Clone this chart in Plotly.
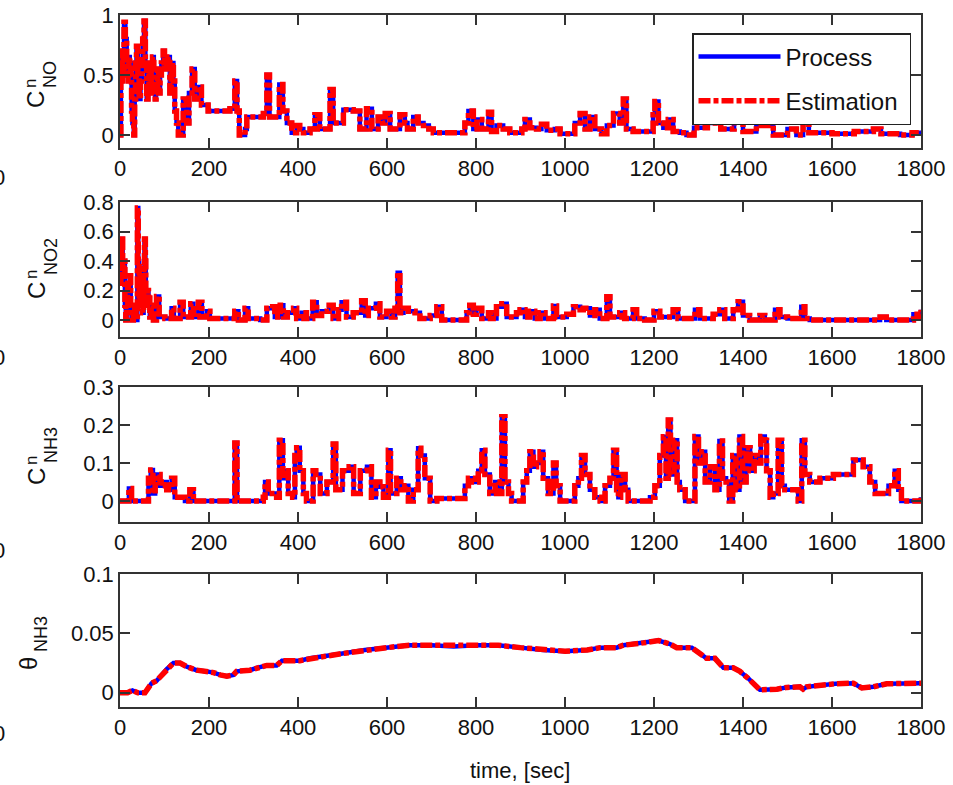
import plotly.graph_objects as go

# ---------------- data ----------------
t_no = [0, 2, 3, 5, 6, 7, 9, 12, 15, 18, 20, 22, 24, 26, 28, 31, 33, 35, 37, 40, 43, 46, 49, 51, 54, 57, 60,
        63, 65, 68, 70, 73, 76, 79, 81, 84, 87, 90, 93, 97, 100, 105, 108, 112, 115, 118, 120, 123, 127, 131,
        142, 150, 155, 162, 168, 175, 183, 198, 247, 258, 263, 268, 281, 285, 322, 330, 336, 345, 358, 366,
        375, 386, 397, 404, 412, 427, 438, 449, 472, 479, 502, 524, 539, 554, 566, 580, 590, 596, 607, 629,
        640, 646, 659, 670, 682, 694, 704, 764, 775, 783, 794, 802, 813, 828, 835, 846, 861, 876, 903, 910,
        921, 936, 947, 959, 977, 989, 1011, 1022, 1034, 1045, 1056, 1067, 1082, 1094, 1109, 1123, 1131, 1138,
        1153, 1183, 1198, 1202, 1210, 1221, 1232, 1243, 1258, 1273, 1290, 1320, 1350, 1380, 1400, 1430, 1468,
        1500, 1520, 1535, 1548, 1600, 1650, 1693, 1710, 1753, 1780, 1800]
c_no = [0.0, 0.6, 0.45, 0.65, 0.7, 0.5, 0.94, 0.8, 0.55, 0.45, 0.65, 0.6, 0.5, 0.2, 0.1, 0.0, 0.3, 0.6, 0.74,
        0.5, 0.3, 0.45, 0.6, 0.8, 0.95, 0.6, 0.3, 0.4, 0.55, 0.35, 0.6, 0.65, 0.45, 0.3, 0.4, 0.55, 0.35, 0.5,
        0.6, 0.7, 0.55, 0.6, 0.65, 0.35, 0.5, 0.6, 0.45, 0.2, 0.1, 0.0,
        0.3, 0.1, 0.35, 0.55, 0.3, 0.4, 0.25, 0.2, 0.22, 0.45, 0.2, 0.0, 0.05, 0.15,
        0.18, 0.5, 0.15, 0.15, 0.42, 0.2, 0.1, 0.02, 0.08, 0.05, 0.02, 0.05, 0.17, 0.05, 0.38, 0.1, 0.21, 0.2,
        0.05, 0.22, 0.05, 0.15, 0.1, 0.18, 0.05, 0.17, 0.1, 0.05, 0.15, 0.1, 0.08, 0.05, 0.02, 0.02, 0.1, 0.2,
        0.05, 0.13, 0.05, 0.19, 0.03, 0.08, 0.05, 0.02, 0.05, 0.13, 0.06, 0.05, 0.09, 0.04, 0.05, 0.01, 0.01,
        0.1, 0.18, 0.05, 0.15, 0.05, 0.01, 0.08, 0.18, 0.1, 0.3, 0.05, 0.03, 0.03, 0.17, 0.28, 0.1, 0.06, 0.13,
        0.03, 0.02, 0.0, 0.06, 0.1, 0.05, 0.12, 0.03, 0.08, 0.0, 0.05, 0.0, 0.2, 0.02, 0.01, 0.03, 0.05, 0.01,
        0.0, 0.02, 0.03]

t_no2 = [0, 2, 4, 6, 9, 11, 13, 15, 17, 19, 22, 24, 26, 30, 33, 36, 39, 41, 43, 46, 48, 51, 53, 55, 57, 58,
         60, 62, 64, 67, 70, 75, 82, 88, 101, 116, 121, 135,
         142, 159, 165, 176, 184, 195, 202, 247, 258, 266, 281, 288, 315, 330, 343, 348, 360, 367, 376, 390,
         397, 408, 419, 433, 442, 453, 470, 479, 491, 498, 509, 524, 543, 551, 558, 575, 584, 599, 610, 618,
         624, 629, 637, 648, 663, 674, 697, 712, 723, 764, 779, 786, 794, 801, 813, 828, 839, 846, 858, 869,
         891, 899, 910, 921, 932, 944, 955, 974, 981, 1004, 1019, 1034, 1041, 1056, 1067, 1078, 1094, 1101,
         1123, 1134, 1153, 1161, 1179, 1200, 1213, 1243, 1254, 1292, 1303, 1333, 1348, 1359, 1378, 1389, 1400,
         1415, 1438, 1449, 1472, 1483, 1500, 1520, 1531, 1539, 1550, 1693, 1708, 1722, 1767, 1783, 1793, 1800]
c_no2 = [0.25, 0.4, 0.55, 0.35, 0.4, 0.1, 0.0, 0.05, 0.25, 0.2, 0.3, 0.1, 0.0, 0.05, 0.1, 0.0, 0.76, 0.4, 0.1,
         0.3, 0.2, 0.05, 0.35, 0.55, 0.4, 0.2, 0.1, 0.2, 0.15, 0.02, 0.1, 0.0, 0.16,
         0.02, 0.01, 0.08, 0.01, 0.12, 0.02, 0.11, 0.02, 0.12, 0.02, 0.06, 0.01, 0.01, 0.06, 0.0, 0.08, 0.01,
         0.0, 0.08, 0.09, 0.02, 0.1, 0.02, 0.05, 0.08, 0.01, 0.05, 0.01, 0.12, 0.03, 0.06, 0.1, 0.01, 0.07, 0.12,
         0.02, 0.05, 0.13, 0.03, 0.08, 0.11, 0.02, 0.06, 0.02, 0.08, 0.32, 0.05, 0.08, 0.06, 0.05, 0.01, 0.03,
         0.09, 0.0, 0.0, 0.05, 0.1, 0.04, 0.08, 0.01, 0.05, 0.01, 0.09, 0.11, 0.02, 0.05, 0.07, 0.02, 0.06, 0.01,
         0.05, 0.01, 0.095, 0.02, 0.04, 0.09, 0.07, 0.08, 0.03, 0.07, 0.01, 0.158, 0.02, 0.05, 0.01, 0.07, 0.01,
         0.0, 0.06, 0.02, 0.07, 0.01, 0.07, 0.01, 0.04, 0.07, 0.01, 0.07, 0.124, 0.03, 0.0, 0.03, 0.0, 0.07,
         0.02, 0.01, 0.01, 0.09, 0.01, 0.0, 0.0, 0.02, 0.0, 0.0, 0.04, 0.02, 0.07]

t_nh3 = [0, 13, 20, 26, 56, 64, 69, 74, 79, 84, 90, 97, 105, 116, 123, 135, 146, 157, 165, 254, 258, 263, 322,
         326, 333, 352, 358, 366, 371, 378, 388, 393, 397, 404, 412, 419, 434, 440, 450, 465, 479, 485, 500,
         515, 525, 540, 555, 565, 575, 584, 592, 603, 608, 622, 631, 640, 648, 659, 670, 676, 685, 697, 712,
         764, 775, 783, 794, 805, 813, 820, 831, 843, 852, 858, 865, 873, 880, 899, 906, 914, 921, 929, 936,
         944, 951, 962, 974, 980, 989, 1015, 1022, 1030, 1037, 1045, 1056, 1067, 1079, 1090, 1101, 1109, 1116,
         1120, 1125, 1135, 1142, 1191, 1202, 1213, 1221, 1227, 1232, 1237, 1245, 1252, 1258, 1270, 1281, 1292,
         1300, 1307, 1315, 1326, 1337, 1347, 1354, 1362, 1369, 1377, 1384, 1392, 1399, 1407, 1416, 1425, 1432,
         1440, 1449, 1453, 1461, 1468, 1479, 1487, 1494, 1513, 1524, 1532, 1539, 1550, 1573, 1603, 1633, 1648,
         1670, 1685, 1697, 1715, 1727, 1741, 1749, 1756, 1794, 1800]
c_nh3 = [0.0, 0.0, 0.033, 0.0, 0.0, 0.06, 0.082, 0.02, 0.05, 0.07, 0.04, 0.05, 0.03, 0.06, 0.01, 0.01, 0.0,
         0.03, 0.0, 0.0, 0.153, 0.0, 0.01, 0.05, 0.02, 0.01, 0.16, 0.06, 0.08, 0.02, 0.01, 0.12, 0.14, 0.08,
         0.02, 0.0, 0.08, 0.07, 0.02, 0.05, 0.15, 0.03, 0.08, 0.09, 0.02, 0.08, 0.09, 0.01, 0.05, 0.038, 0.01,
         0.134, 0.02, 0.06, 0.03, 0.04, 0.0, 0.03, 0.139, 0.12, 0.06, 0.0, 0.007, 0.007, 0.04, 0.06, 0.05, 0.08,
         0.134, 0.07, 0.02, 0.05, 0.02, 0.222, 0.05, 0.02, 0.0, 0.0, 0.05, 0.08, 0.13, 0.09, 0.1, 0.13, 0.06,
         0.02, 0.1, 0.04, 0.0, 0.0, 0.04, 0.06, 0.12, 0.07, 0.03, 0.01, 0.0, 0.04, 0.06, 0.134, 0.03, 0.01, 0.07,
         0.03, 0.0, 0.01, 0.04, 0.12, 0.169, 0.06, 0.213, 0.07, 0.16, 0.05, 0.03, 0.0, 0.0, 0.17, 0.1, 0.13,
         0.05, 0.09, 0.03, 0.158, 0.06, 0.05, 0.0, 0.12, 0.03, 0.17, 0.05, 0.14, 0.08, 0.12, 0.1, 0.17, 0.16,
         0.08, 0.01, 0.02, 0.16, 0.04, 0.03, 0.03, 0.0, 0.16, 0.07, 0.05, 0.06, 0.07, 0.07, 0.108, 0.09, 0.05,
         0.02, 0.02, 0.04, 0.08, 0.03, 0.0, 0.0, 0.01]

t_theta = [0, 17, 28, 40, 56, 71, 82, 105, 120, 135, 150, 172, 195, 210, 225, 240, 255, 262, 292, 307, 330,
           352, 364, 404, 427, 449, 500, 550, 600, 650, 700, 750, 800, 850, 900, 950, 1000, 1050, 1079, 1116,
           1131, 1176, 1210, 1236, 1251, 1285, 1303, 1318, 1337, 1356, 1378, 1393, 1412, 1438, 1476, 1498,
           1528, 1535, 1543, 1565, 1595, 1607, 1648, 1667, 1693, 1723, 1798, 1800]
theta_nh3 = [0.0, 0.0, 0.002, 0.0, 0.0, 0.008, 0.01, 0.02, 0.025, 0.025, 0.022, 0.019, 0.018, 0.017, 0.015,
             0.014, 0.015, 0.018, 0.019, 0.021, 0.023, 0.023, 0.027, 0.027, 0.029, 0.030, 0.033, 0.036, 0.038,
             0.040, 0.040, 0.039, 0.040, 0.040, 0.038, 0.036, 0.035, 0.036, 0.038, 0.038, 0.040, 0.042, 0.044,
             0.041, 0.038, 0.038, 0.033, 0.029, 0.029, 0.021, 0.021, 0.018, 0.012, 0.0025, 0.003, 0.0045, 0.005,
             0.003, 0.005, 0.006, 0.007, 0.0076, 0.008, 0.004, 0.005, 0.0076, 0.008, 0.008]

x_ticks = [0, 200, 400, 600, 800, 1000, 1200, 1400, 1600, 1800]
y_ticks = [[0, 0.5, 1], [0, 0.2, 0.4, 0.6, 0.8], [0, 0.1, 0.2, 0.3], [0, 0.05, 0.1]]
y_ticktext = [["0", "0.5", "1"], ["0", "0.2", "0.4", "0.6", "0.8"], ["0", "0.1", "0.2", "0.3"],
              ["0", "0.05", "0.1"]]
y_ranges = [[-0.108, 1.0], [-0.115, 0.8], [-0.055, 0.3], [-0.012, 0.1]]
series_names = ["Process", "Estimation\u00a0"]

# ---------------- figure ----------------
W, H = 953, 785
L, R = 120, 32
PW = W - L - R
FONT = "Liberation Sans, Arial, sans-serif"

panels_px = [(15, 148), (202, 337), (387, 522), (574, 707)]
data_t = [t_no, t_no2, t_nh3, t_theta]
data_v = [c_no, c_no2, c_nh3, theta_nh3]
shapes = ["hv", "hv", "hv", "linear"]

fig = go.Figure()
for i in range(4):
    xa = "x" if i == 0 else f"x{i+1}"
    ya = "y" if i == 0 else f"y{i+1}"
    fig.add_trace(go.Scatter(x=data_t[i], y=data_v[i], mode="lines", name=series_names[0],
                             line=dict(color="#0000FF", width=4.5, shape=shapes[i]), xaxis=xa, yaxis=ya,
                             showlegend=(i == 0), legendgroup="p"))
    fig.add_trace(go.Scatter(x=data_t[i], y=data_v[i], mode="lines", name=series_names[1],
                             line=dict(color="#FF0000", width=5.5, dash="12px,3px,5px,3px", shape=shapes[i]),
                             xaxis=xa, yaxis=ya, showlegend=(i == 0), legendgroup="e"))

axis_common = dict(showline=True, mirror="ticks", linecolor="#333333", linewidth=1.5,
                   ticks="inside", ticklen=10, tickwidth=1.5, tickcolor="#333333",
                   showgrid=False, zeroline=False, automargin=False,
                   tickfont=dict(family=FONT, size=22, color="#111111"))

layout = dict(width=W, height=H, margin=dict(l=L, r=R, t=0, b=0, pad=0, autoexpand=False),
              paper_bgcolor="white", plot_bgcolor="white", showlegend=True,
              legend=dict(x=(692 - L) / PW, y=(H - 33) / H, xanchor="left", yanchor="top",
                          bgcolor="white", bordercolor="#222222", borderwidth=1.5,
                          font=dict(family=FONT, size=24, color="#111111"),
                          itemwidth=82, tracegroupgap=10))

for i, (top, bot) in enumerate(panels_px):
    sx = "" if i == 0 else str(i + 1)
    dom = [1 - bot / H, 1 - top / H]
    layout["xaxis" + sx] = dict(axis_common, domain=[0, 1], range=[0, 1800], tickvals=x_ticks,
                                anchor="y" + sx)
    layout["yaxis" + sx] = dict(axis_common, domain=dom, range=y_ranges[i], tickvals=y_ticks[i],
                                ticktext=y_ticktext[i], anchor="x" + sx)
fig.update_layout(**layout)


def px_x(px):
    return (px - L) / PW


def px_y(py):
    return (H - py) / H


labels = [
    ("C", 36, 100, 24), ("n", 31, 84, 17), ("NO", 50, 75, 18),
    ("C", 36, 291, 24), ("n", 31, 275, 17), ("NO2", 51, 257, 18),
    ("C", 36, 477, 24), ("n", 31, 461, 17), ("NH3", 51, 445, 18),
    ("θ", 28, 664, 24), ("NH3", 41, 634, 18),
]
for txt, x, y, s in labels:
    fig.add_annotation(text=txt, x=px_x(x), y=px_y(y), xref="paper", yref="paper",
                       xanchor="center", yanchor="middle", textangle=-90, showarrow=False,
                       font=dict(family=FONT, size=s, color="#111111"))

fig.add_annotation(text="time, [sec]", x=px_x(520), y=px_y(770), xref="paper", yref="paper",
                   xanchor="center", yanchor="middle", showarrow=False,
                   font=dict(family=FONT, size=22, color="#111111"))

for yy in [178, 357, 550, 733]:
    fig.add_annotation(text="0", x=px_x(-1), y=px_y(yy), xref="paper", yref="paper",
                       xanchor="center", yanchor="middle", showarrow=False,
                       font=dict(family=FONT, size=22, color="#111111"))

fig.write_html("out.html", config={"displayModeBar": False},
               post_script="document.body.style.margin='0';document.body.style.overflow='hidden';")
